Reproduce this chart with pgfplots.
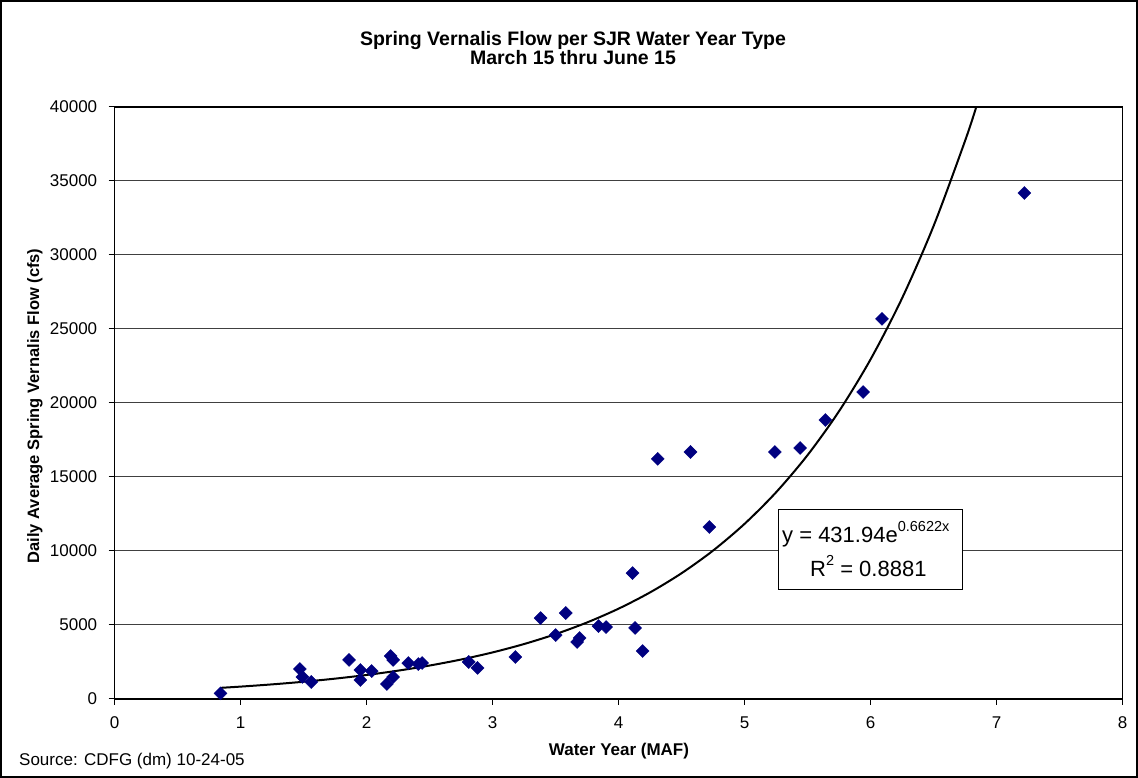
\documentclass[border=0pt]{standalone}
\usepackage{fontspec}
\setmainfont{Liberation Sans}
\usepackage{pgfplots}
\pgfplotsset{compat=1.18}
\definecolor{ptnavy}{HTML}{000080}

\begin{document}
\begin{tikzpicture}[x=1pt,y=1pt]
\useasboundingbox (0,0) rectangle (1138,778);
\draw[line width=2pt] (1,1) rectangle (1137,777);
\begin{axis}[
  at={(114.7pt,79pt)}, anchor=south west,
  scale only axis, width=1008pt, height=592pt,
  xmin=0, xmax=8, ymin=0, ymax=40000,
  xtick={0,1,...,8}, ytick={0,5000,...,40000},
  tick align=outside, xtick pos=bottom, ytick pos=left,
  major tick length=6pt,
  every tick/.style={black, line width=1pt},
  axis line style={line width=1.4pt},
  ymajorgrids, major grid style={black!75, line width=1pt},
  scaled y ticks=false,
  /pgf/number format/assume math mode=true,
  ticklabel style={font=\fontsize{17}{17}\selectfont},
  yticklabel style={/pgf/number format/fixed, /pgf/number format/1000 sep={}, xshift=-8pt},
  xticklabel style={yshift=-8pt},
  clip mode=individual,
]
% trend line y = 431.94 e^{0.6622x}, tabulated
\addplot[black, line width=2pt, smooth] coordinates {
  (0.84,753) (1.0,837.6) (1.25,988.4) (1.5,1166.3) (1.75,1376.3)
  (2.0,1624.0) (2.25,1916.4) (2.5,2261.5) (2.75,2668.7) (3.0,3149.1)
  (3.25,3716.0) (3.5,4385.1) (3.75,5174.6) (4.0,6106.3) (4.25,7205.7)
  (4.5,8503.1) (4.75,10034) (5.0,11841) (5.25,13972) (5.5,16488)
  (5.75,19456) (6.0,22960) (6.25,27091) (6.5,31972) (6.75,37730)
  (6.838,40000)
};
\addplot[only marks, mark=square*, mark size=4.6pt,
  mark options={rotate=45, fill=ptnavy, draw=ptnavy}] coordinates {
  (0.84,380) (1.47,2030) (1.49,1490) (1.56,1150) (1.86,2640)
  (1.95,1960) (1.95,1280) (2.04,1890) (2.19,2900) (2.21,2640)
  (2.16,1010) (2.21,1490) (2.33,2430) (2.41,2360) (2.44,2430)
  (2.81,2500) (2.88,2100) (3.18,2840) (3.38,5470) (3.50,4320)
  (3.58,5810) (3.67,3850) (3.69,4120) (3.84,4930) (3.90,4860)
  (4.11,8510) (4.13,4800) (4.19,3240) (4.31,16220) (4.57,16690)
  (4.72,11620) (5.24,16690) (5.44,16960) (5.64,18850) (5.94,20740)
  (6.09,25680) (7.22,34190)
};
\end{axis}
% trendline label
\begin{scope}
\draw[fill=white, line width=1pt] (778,188) rectangle (962,268);
\clip (778,188) rectangle (962,268);
\node[anchor=base west, inner sep=0, font=\fontsize{22}{22}\selectfont] at (782,235)
  {y = 431.94e\raisebox{0.5em}{\fontsize{14.5}{14.5}\selectfont 0.6622x}};
\node[anchor=base west, inner sep=0, font=\fontsize{22}{22}\selectfont] at (810,201)
  {R\raisebox{0.5em}{\fontsize{14.5}{14.5}\selectfont 2} = 0.8881};
\end{scope}
% titles and labels
\node[align=center, font=\bfseries\fontsize{19.5}{17.7}\selectfont] at (573,730)
  {Spring Vernalis Flow per SJR Water Year Type\\March 15 thru June 15};
\node[anchor=base, inner sep=0, font=\bfseries\fontsize{17}{17}\selectfont] at (619,22)
  {Water Year (MAF)};
\node[rotate=90, inner sep=0, font=\bfseries\fontsize{16.5}{16.5}\selectfont] at (35,372)
  {Daily Average Spring Vernalis Flow (cfs)};
\node[anchor=base west, inner sep=0, font=\fontsize{17}{17}\selectfont] at (19,12)
  {Source: CDFG (dm) 10-24-05};
\end{tikzpicture}
\end{document}
